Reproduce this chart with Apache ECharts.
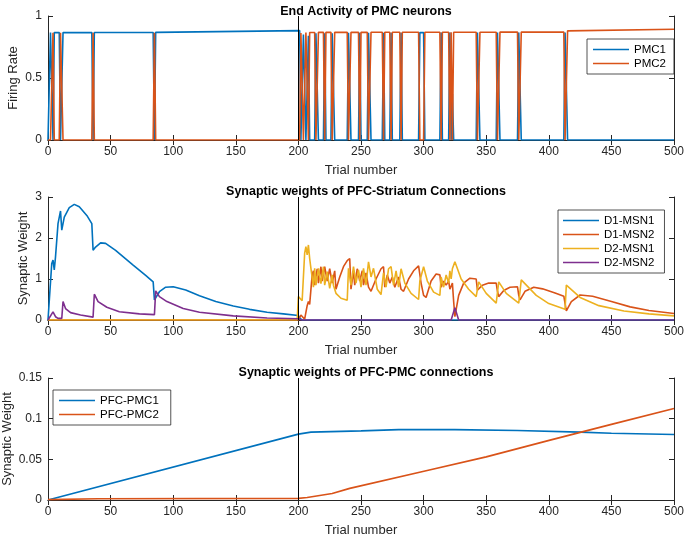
<!DOCTYPE html>
<html><head><meta charset="utf-8">
<script src="https://cdn.jsdelivr.net/npm/echarts@6/dist/echarts.min.js"></script>
<style>html,body{margin:0;padding:0;background:#fff}#c{width:685px;height:535px}</style>
</head><body><div id="c"></div>
<script>
// ---------- DATA ----------
const plotTitles = ['End Activity of PMC neurons', 'Synaptic weights of PFC-Striatum Connections', 'Synaptic weights of PFC-PMC connections'];
const yNames = ['Firing Rate', 'Synaptic Weight', 'Synaptic Weight'];
const xName = 'Trial number';
const xTicks = [0, 50, 100, 150, 200, 250, 300, 350, 400, 450, 500];
const yRanges = [[0, 1, 0.5], [0, 3, 1], [0, 0.15, 0.05]];

const pmcNames = ['PMC1', 'PMC2'];
// winner runs: [startTrial, endTrial, PMC1 level, PMC2 level, (PMC1 level at end), (PMC2 level at end)]
const pmcRuns = [
  [0, 1, 0, 0],
  [2, 3, 0.866, 0],
  [4, 4, 0, 0.865],
  [5, 9, 0.866, 0],
  [10, 11, 0, 0.865],
  [12, 35, 0.866, 0],
  [36, 36, 0, 0.865],
  [37, 84, 0.867, 0],
  [85, 85, 0, 0.865],
  [86, 201, 0.868, 0, 0.882, 0],
  [202, 203, 0, 0.862],
  [204, 205, 0.85, 0],
  [206, 207, 0, 0.866],
  [208, 208, 0.84, 0],
  [209, 213, 0, 0.867],
  [214, 215, 0.86, 0],
  [216, 220, 0, 0.868],
  [221, 221, 0.86, 0],
  [222, 226, 0, 0.868],
  [227, 228, 0.86, 0],
  [229, 239, 0, 0.868],
  [240, 241, 0.865, 0],
  [242, 248, 0, 0.868],
  [249, 249, 0.865, 0],
  [250, 255, 0, 0.868],
  [256, 257, 0.865, 0],
  [258, 267, 0, 0.869],
  [268, 268, 0.865, 0],
  [269, 273, 0, 0.869],
  [274, 274, 0.865, 0],
  [275, 281, 0, 0.869],
  [282, 282, 0.865, 0],
  [283, 296, 0, 0.869],
  [297, 300, 0.866, 0],
  [301, 313, 0, 0.869],
  [314, 314, 0.866, 0],
  [315, 320, 0, 0.869],
  [321, 321, 0.866, 0],
  [322, 322, 0, 0.869],
  [323, 323, 0.37, 0],
  [324, 342, 0, 0.869],
  [343, 344, 0.866, 0],
  [345, 358, 0, 0.869],
  [359, 360, 0.866, 0],
  [361, 375, 0, 0.87],
  [376, 377, 0.866, 0],
  [378, 412, 0, 0.87],
  [413, 414, 0.866, 0],
  [415, 500, 0, 0.88, 0, 0.893]
];

const striatumNames = ['D1-MSN1', 'D1-MSN2', 'D2-MSN1', 'D2-MSN2'];
const d1msn1 = [[0,0],[3,1.38],[4,1.46],[5,1.22],[6,1.54],[8,2.35],[10,2.66],[11,2.19],[13,2.51],[17,2.74],[21,2.82],[25,2.76],[31,2.55],[35,2.35],[36,1.70],[38,1.78],[42,1.88],[46,1.87],[54,1.70],[68,1.34],[78,1.09],[84,0.93],[85,0.49],[89,0.69],[94,0.80],[100,0.81],[110,0.73],[121,0.59],[134,0.45],[148,0.34],[161,0.26],[175,0.19],[188,0.15],[200,0.11],[201,0.05],[203,0],[324,0],[325,0.04],[326,0],[500,0]];
const d1msn2 = [[0,0],[200,0],[202,0.12],[203,0.15],[205,0.02],[207,0.35],[208,0.45],[209,0.38],[211,1.1],[212,1.2],[213,0.85],[215,1.25],[216,0.9],[218,1.3],[219,0.95],[221,1.3],[223,0.95],[225,1.25],[227,0.9],[229,1.2],[230,0.75],[233,1.05],[236,1.3],[239,1.45],[241,1.5],[242,0.75],[244,1.2],[245,0.85],[247,1.25],[249,0.95],[251,1.2],[252,0.85],[254,1.15],[256,0.8],[258,0.7],[262,1.0],[266,1.25],[268,1.3],[269,0.8],[271,1.1],[273,0.9],[275,1.05],[277,0.8],[280,1.05],[282,0.75],[284,0.7],[288,1.0],[292,1.2],[296,1.32],[297,1.3],[298,0.9],[300,0.6],[302,0.55],[306,0.95],[310,1.12],[313,1.1],[314,0.8],[316,0.95],[318,0.85],[320,0.95],[321,0.75],[323,0.9],[324,0.45],[325,0.08],[328,0.6],[332,0.9],[337,1.02],[342,1.0],[343,0.73],[344,0.72],[347,0.85],[352,0.9],[358,0.9],[359,0.7],[360,0.57],[364,0.72],[369,0.8],[375,0.81],[376,0.6],[377,0.49],[381,0.7],[388,0.8],[395,0.76],[405,0.66],[412,0.58],[413,0.4],[414,0.22],[418,0.45],[425,0.61],[435,0.58],[450,0.45],[465,0.32],[480,0.23],[500,0.16]];
const d2msn1 = [[0,0],[199,0],[200,0.57],[201,0.55],[203,0.47],[205,1.63],[206,1.79],[207,1.59],[208,1.83],[209,1.5],[210,1.26],[212,0.8],[213,1.26],[214,0.85],[216,1.26],[218,0.89],[220,1.3],[221,0.85],[223,1.18],[225,0.77],[227,1.1],[228,0.85],[230,0.65],[234,0.53],[239,0.48],[240,1.26],[242,0.85],[244,1.3],[246,0.9],[248,1.22],[250,0.8],[252,1.26],[254,0.85],[256,1.42],[258,1.05],[260,1.26],[263,0.75],[266,0.62],[268,1.15],[270,0.8],[272,1.25],[274,1.3],[276,0.85],[278,1.2],[280,0.8],[282,1.25],[285,0.9],[290,0.65],[296,0.5],[297,0.95],[300,1.3],[303,0.95],[308,0.68],[313,0.6],[314,1.05],[316,0.8],[318,1.1],[320,0.9],[321,1.2],[322,1.0],[323,1.25],[325,1.42],[330,1.0],[336,0.75],[342,0.57],[344,0.93],[350,0.65],[358,0.41],[360,0.93],[366,0.65],[376,0.41],[378,0.98],[390,0.6],[400,0.4],[413,0.26],[414,0.85],[425,0.55],[440,0.35],[460,0.22],[480,0.15],[500,0.1]];
const d2msn2 = [[0,0],[4,0.2],[6,0.08],[8,0.04],[11,0.04],[12,0.45],[14,0.28],[18,0.18],[26,0.12],[36,0.07],[37,0.63],[40,0.45],[47,0.31],[57,0.2],[73,0.15],[85,0.13],[86,0.71],[89,0.57],[95,0.45],[108,0.28],[121,0.19],[148,0.1],[175,0.05],[200,0.03],[202,0],[322,0],[325,0.3],[328,0],[500,0]];

const pfcNames = ['PFC-PMC1', 'PFC-PMC2'];
const pfcPmc1 = [[0,0],[200,0.081],[210,0.0835],[250,0.085],[280,0.0865],[325,0.0865],[375,0.0855],[425,0.0835],[450,0.082],[500,0.0805]];
const pfcPmc2 = [[0,0.0005],[40,0.0015],[200,0.002],[207,0.003],[227,0.008],[241,0.0143],[302,0.036],[350,0.053],[401,0.0736],[450,0.093],[500,0.1125]];

// ---------- STYLE / LAYOUT ----------
const C = {blue:'#0072BD', orange:'#D95319', yellow:'#EDB120', purple:'#7E2F8E'};
const AX = '#262626';
const FONT = 'Liberation Sans, Arial, Helvetica, sans-serif';
const grids = [
  {left:48, right:11, top:16, height:124},
  {left:48, right:11, top:197, height:123},
  {left:48, right:11, top:378, height:122}
];
const yNameGaps = [28, 18, 34];
const titleTops = [0, 180, 361];

function runsToLine(runs, k) {
  const pts = [];
  runs.forEach(r => {
    const a = r[2 + k];
    const b = (r[4 + k] !== undefined) ? r[4 + k] : a;
    pts.push([r[0], a]);
    if (r[1] !== r[0] || b !== a) pts.push([r[1], b]);
  });
  return pts;
}

const xAxes = [], yAxes = [];
grids.forEach((g, i) => {
  xAxes.push({
    type:'value', gridIndex:i, min:0, max:500, interval:50,
    name: xName, nameLocation:'middle', nameGap:24, nameMoveOverlap:false,
    nameTextStyle:{color:AX, fontSize:13, fontFamily:FONT},
    axisLine:{show:true, lineStyle:{color:AX, width:1}},
    axisTick:{inside:true, length:5, lineStyle:{color:AX}},
    axisLabel:{color:AX, fontSize:12, fontFamily:FONT, margin:6},
    splitLine:{show:false}
  });
  xAxes.push({
    type:'value', gridIndex:i, min:0, max:500, interval:50, position:'top',
    axisLine:{show:true, lineStyle:{color:AX, width:1}},
    axisTick:{inside:true, length:5, lineStyle:{color:AX}},
    axisLabel:{show:false}, splitLine:{show:false}
  });
  const yr = yRanges[i];
  yAxes.push({
    type:'value', gridIndex:i, min:yr[0], max:yr[1], interval:yr[2],
    name: yNames[i], nameLocation:'middle', nameGap:yNameGaps[i], nameRotate:90, nameMoveOverlap:false,
    nameTextStyle:{color:AX, fontSize:13, fontFamily:FONT},
    axisLine:{show:true, onZero:false, lineStyle:{color:AX, width:1}},
    axisTick:{show:true, inside:true, length:5, lineStyle:{color:AX}},
    axisLabel:{color:AX, fontSize:12, fontFamily:FONT, margin:6},
    splitLine:{show:false}
  });
  yAxes.push({
    type:'value', gridIndex:i, min:yr[0], max:yr[1], interval:yr[2], position:'right',
    axisLine:{show:true, onZero:false, lineStyle:{color:AX, width:1}},
    axisTick:{show:true, inside:true, length:5, lineStyle:{color:AX}},
    axisLabel:{show:false}, splitLine:{show:false}
  });
});

function line(name, data, color, gi, mark) {
  const s = {
    name, type:'line', data, xAxisIndex:gi*2, yAxisIndex:gi*2,
    showSymbol:false, symbol:'none', animation:false, clip:true,
    lineStyle:{color, width:1.6}, itemStyle:{color}
  };
  if (mark) {
    s.markLine = {silent:true, symbol:['none','none'], label:{show:false},
      lineStyle:{color:'#000', width:1, type:'solid'}, data:[{xAxis:200}], animation:false};
  }
  return s;
}

const series = [
  line(pmcNames[0], runsToLine(pmcRuns, 0), C.blue, 0, true),
  line(pmcNames[1], runsToLine(pmcRuns, 1), C.orange, 0),
  line(striatumNames[0], d1msn1, C.blue, 1, true),
  line(striatumNames[1], d1msn2, C.orange, 1),
  line(striatumNames[2], d2msn1, C.yellow, 1),
  line(striatumNames[3], d2msn2, C.purple, 1),
  line(pfcNames[0], pfcPmc1, C.blue, 2, true),
  line(pfcNames[1], pfcPmc2, C.orange, 2)
];

const legendBase = {
  orient:'vertical', backgroundColor:'#fff', borderColor:AX, borderWidth:0.8,
  icon:'rect', itemWidth:36, itemHeight:1.6, itemGap:1, borderRadius:0,
  textStyle:{color:'#000', fontSize:11.5, fontFamily:FONT, lineHeight:13}, selectedMode:false
};

const option = {
  backgroundColor:'#fff',
  animation:false,
  title: plotTitles.map((t, i) => ({
    text:t, left:361, top:titleTops[i], textAlign:'center',
    textStyle:{fontSize:12.5, fontWeight:'bold', color:'#000', fontFamily:FONT}
  })),
  grid: grids.map(g => Object.assign({show:false, containLabel:false, outerBoundsMode:'none'}, g)),
  xAxis: xAxes,
  yAxis: yAxes,
  legend: [
    Object.assign({}, legendBase, {data:pmcNames, left:587, top:39, padding:[4,8,4,6]}),
    Object.assign({}, legendBase, {data:striatumNames, left:558, top:210, padding:[4,10,4,5]}),
    Object.assign({}, legendBase, {data:pfcNames, left:53, top:390, padding:[4,12,4,6]})
  ],
  series
};

const chart = echarts.init(document.getElementById('c'), null, {renderer:'canvas'});
chart.setOption(option);
</script>
</body></html>
